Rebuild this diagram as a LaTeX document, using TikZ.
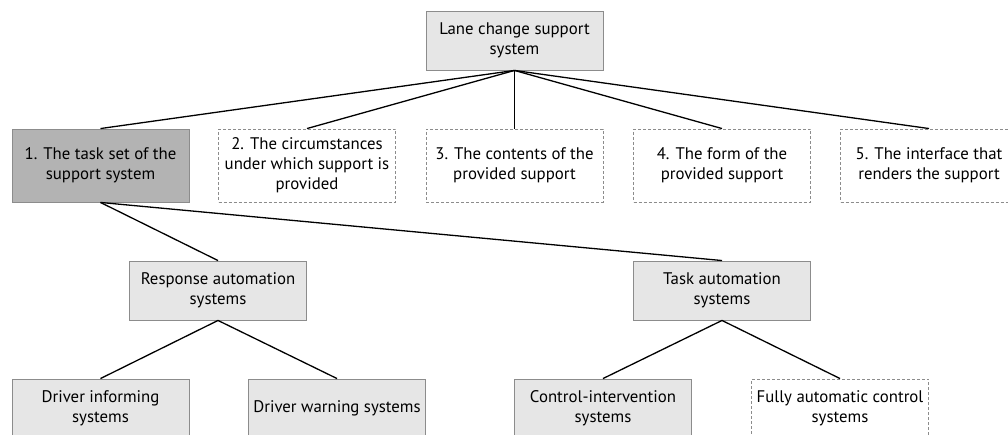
\documentclass[tikz,border=0pt]{standalone}
\usepackage{fontspec}
\setmainfont{PT Sans}
\definecolor{boxfill}{HTML}{E6E6E6}
\definecolor{darkfill}{HTML}{B3B3B3}
\definecolor{boxline}{HTML}{8C8C8C}
\begin{document}
\begin{tikzpicture}[x=1pt,y=-1pt,
  base/.style={rectangle, inner sep=0pt, align=center, font=\fontsize{16.8}{20}\selectfont,
               line width=0.9pt, draw=boxline, minimum width=177pt},
  solidbox/.style={base, fill=boxfill},
  darkbox/.style={base, fill=darkfill},
  dashbox/.style={base, fill=white, dash pattern=on 3pt off 2pt},
  link/.style={line width=1.3pt, black}]
\useasboundingbox (0,0) rectangle (1008,435);
\clip (0,0) rectangle (1008,435);

% root
\node[solidbox, minimum height=59pt] (root) at (514.5,40.5) {Lane change support\\system};

% aspects of the support system
\node[darkbox, minimum height=73pt] (a1) at (100.5,165.5) {1. The task set of the\\support system};
\node[dashbox, minimum height=73pt] (a2) at (307,165.5) {2. The circumstances\\under which support is\\provided};
\node[dashbox, minimum height=73pt] (a3) at (514.5,165.5) {3. The contents of the\\provided support};
\node[dashbox, minimum height=73pt] (a4) at (722,165.5) {4. The form of the\\provided support};
\node[dashbox, minimum height=73pt] (a5) at (929,165.5) {5. The interface that\\renders the support};

% automation classes
\node[solidbox, minimum height=59pt] (resp) at (218,290.5) {Response automation\\systems};
\node[solidbox, minimum height=59pt] (task) at (722,290.5) {Task automation\\systems};

% system types
\node[solidbox, minimum height=59pt] (inform) at (100.5,408.5) {Driver informing\\systems};
\node[solidbox, minimum height=59pt] (warn) at (337,408.5) {Driver warning systems};
\node[solidbox, minimum height=59pt] (ctrl) at (603,408.5) {Control-intervention\\systems};
\node[dashbox, minimum height=59pt] (full) at (840,408.5) {Fully automatic control\\systems};

% tree connectors
\foreach \n in {a1,a2,a3,a4,a5} \draw[link] (root.south) -- (\n.north);
\draw[link] (a1.south) -- (resp.north);
\draw[link] (a1.south) -- (task.north);
\draw[link] (resp.south) -- (inform.north);
\draw[link] (resp.south) -- (warn.north);
\draw[link] (task.south) -- (ctrl.north);
\draw[link] (task.south) -- (full.north);
\end{tikzpicture}
\end{document}
